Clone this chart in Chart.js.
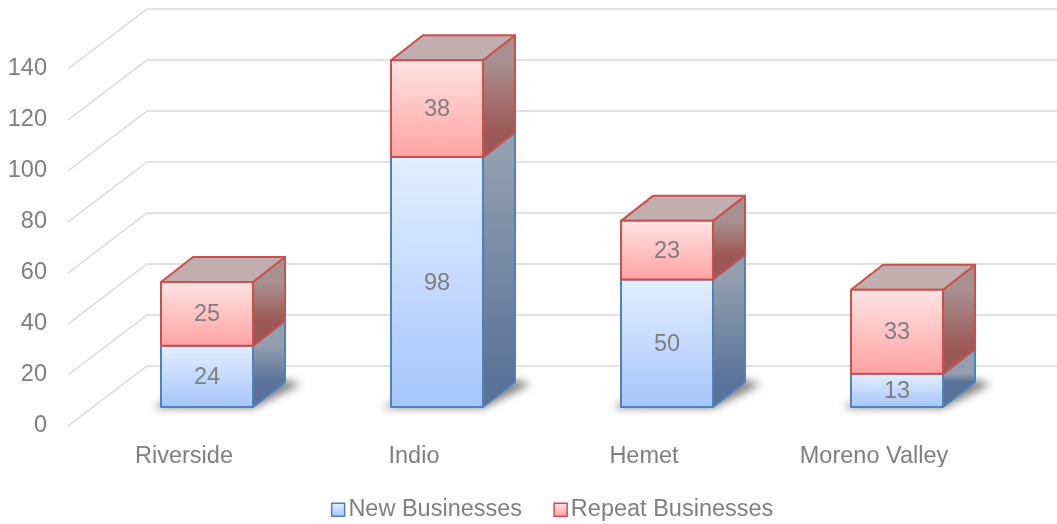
<!DOCTYPE html>
<html>
<head>
<meta charset="utf-8">
<script src="https://cdn.jsdelivr.net/npm/chart.js@4.4.1/dist/chart.umd.min.js"></script>
<style>
  html, body { margin: 0; padding: 0; background: #fff; }
  #wrap { width: 1057px; height: 524px; }
</style>
</head>
<body>
<div id="wrap"><canvas id="chart"></canvas></div>
<script>
// === DATA ===
const categories = ['Riverside', 'Indio', 'Hemet', 'Moreno Valley'];
const newBusinesses = [24, 98, 50, 13];
const repeatBusinesses = [25, 38, 23, 33];
const yTicks = [0, 20, 40, 60, 80, 100, 120, 140];

// 3D look (pixels)
const DEPTH_X = 32, DEPTH_Y = -25;      // bar depth
const FRONT_X = -24, FRONT_Y = 19;      // floor front edge vs bar plane
const BACK_X = 55, BACK_Y = -41;        // back wall vs bar plane
const TEXT = '#7f7f7f';
const FONT = "'Liberation Sans', Arial, sans-serif";
const FSIZE = 23.5;

const looks = [
  { border: '#4f81bd', front: ['#e3eeff', '#a6c5fa'], side: ['#939eae', '#5a7299'], top: '#b8c4d4' },
  { border: '#c9504d', front: ['#ffe3e3', '#ffa3a3'], side: ['#a89090', '#9c5856'], top: '#c1aeae' }
];

// grid lines on the side wall and back wall
const gridPlugin = {
  id: 'grid3d',
  beforeDatasetsDraw(chart) {
    const { ctx, chartArea } = chart;
    const y = chart.scales.y;
    ctx.save();
    ctx.strokeStyle = '#d9d9d9';
    ctx.lineWidth = 1.5;
    yTicks.forEach(v => {
      const py = y.getPixelForValue(v);
      ctx.beginPath();
      ctx.moveTo(chartArea.left + FRONT_X, py + FRONT_Y);
      ctx.lineTo(chartArea.left + BACK_X, py + BACK_Y);
      ctx.lineTo(chart.width, py + BACK_Y);
      ctx.stroke();
    });
    ctx.restore();
  }
};

function drawBox(ctx, l, r, t, b, look) {
  // side
  let g = ctx.createLinearGradient(0, t, 0, b + DEPTH_Y);
  g.addColorStop(0, look.side[0]);
  g.addColorStop(1, look.side[1]);
  ctx.fillStyle = g;
  ctx.beginPath();
  ctx.moveTo(r, t); ctx.lineTo(r + DEPTH_X, t + DEPTH_Y);
  ctx.lineTo(r + DEPTH_X, b + DEPTH_Y); ctx.lineTo(r, b);
  ctx.closePath();
  ctx.fill(); ctx.stroke();
  // top
  ctx.fillStyle = look.top;
  ctx.beginPath();
  ctx.moveTo(l, t); ctx.lineTo(l + DEPTH_X, t + DEPTH_Y);
  ctx.lineTo(r + DEPTH_X, t + DEPTH_Y); ctx.lineTo(r, t);
  ctx.closePath();
  ctx.fill(); ctx.stroke();
  // front
  g = ctx.createLinearGradient(0, t, 0, b);
  g.addColorStop(0, look.front[0]);
  g.addColorStop(1, look.front[1]);
  ctx.fillStyle = g;
  ctx.fillRect(l, t, r - l, b - t);
  ctx.strokeRect(l, t, r - l, b - t);
}

const barsPlugin = {
  id: 'bars3d',
  afterDatasetsDraw(chart) {
    const { ctx } = chart;
    const metas = [chart.getDatasetMeta(0), chart.getDatasetMeta(1)];
    categories.forEach((c, i) => {
      const base = metas[0].data[i];
      const l = base.x - base.width / 2, r = base.x + base.width / 2, b = base.base;
      // floor shadow
      ctx.save();
      ctx.filter = 'blur(4px)';
      ctx.fillStyle = 'rgba(0,0,0,0.5)';
      ctx.beginPath();
      ctx.moveTo(l - 8, b + 1);
      ctx.lineTo(r, b + 1);
      ctx.lineTo(r + DEPTH_X + 16, b + DEPTH_Y + 2);
      ctx.lineTo(r + DEPTH_X, b + DEPTH_Y - 2);
      ctx.lineTo(l, b - 4);
      ctx.closePath();
      ctx.fill();
      ctx.restore();

      metas.forEach((m, k) => {
        const el = m.data[i];
        ctx.save();
        ctx.lineWidth = 2;
        ctx.lineJoin = 'round';
        ctx.strokeStyle = looks[k].border;
        drawBox(ctx, l, r, el.y, el.base, looks[k]);
        ctx.restore();
      });
      metas.forEach((m, k) => {
        const el = m.data[i];
        const val = chart.data.datasets[k].data[i];
        ctx.save();
        ctx.fillStyle = TEXT;
        ctx.font = FSIZE + 'px ' + FONT;
        ctx.textAlign = 'center';
        ctx.textBaseline = 'middle';
        ctx.fillText(String(val), el.x, (el.y + el.base) / 2 + 1);
        ctx.restore();
      });
    });
  },
  afterDraw(chart) {
    // legend swatches
    const { ctx } = chart;
    chart.legend.legendHitBoxes.forEach((hb, k) => {
      const s = 13;
      const x = hb.left + 1, y = hb.top + hb.height / 2 - s / 2;
      const g = ctx.createLinearGradient(0, y, 0, y + s);
      g.addColorStop(0, looks[k].front[0]);
      g.addColorStop(1, looks[k].front[1]);
      ctx.save();
      ctx.fillStyle = g;
      ctx.fillRect(x, y, s, s);
      ctx.strokeStyle = looks[k].border;
      ctx.lineWidth = 1.5;
      ctx.strokeRect(x, y, s, s);
      ctx.restore();
    });
  }
};

new Chart(document.getElementById('chart'), {
  type: 'bar',
  data: {
    labels: categories,
    datasets: [
      { label: 'New Businesses', data: newBusinesses, backgroundColor: 'rgba(0,0,0,0)', borderWidth: 0 },
      { label: 'Repeat Businesses', data: repeatBusinesses, backgroundColor: 'rgba(0,0,0,0)', borderWidth: 0 }
    ]
  },
  options: {
    responsive: true,
    maintainAspectRatio: false,
    animation: false,
    categoryPercentage: 1,
    barPercentage: 0.4,
    layout: { padding: { top: 50, right: 45, left: 0, bottom: -7.5 } },
    plugins: {
      tooltip: { enabled: false },
      legend: {
        position: 'bottom',
        fullSize: false,
        labels: {
          boxWidth: 6,
          padding: 31,
          color: TEXT,
          font: { family: FONT, size: FSIZE }
        }
      }
    },
    scales: {
      x: {
        stacked: true,
        grid: { display: false, drawTicks: false },
        border: { display: false },
        ticks: { color: TEXT, font: { family: FONT, size: FSIZE }, padding: 35, labelOffset: -23, maxRotation: 0 },
        afterFit(scale) { scale.height = 60; }
      },
      y: {
        stacked: true,
        min: 0,
        max: 140,
        grid: { display: false, drawTicks: false },
        border: { display: false },
        ticks: { stepSize: 20, color: TEXT, font: { family: FONT, size: FSIZE }, padding: 45, labelOffset: FRONT_Y },
        afterFit(scale) {
          scale.width = 92;
          scale.paddingTop = 0;
          scale.paddingBottom = 0;
        }
      }
    }
  },
  plugins: [gridPlugin, barsPlugin]
});
</script>
</body>
</html>
